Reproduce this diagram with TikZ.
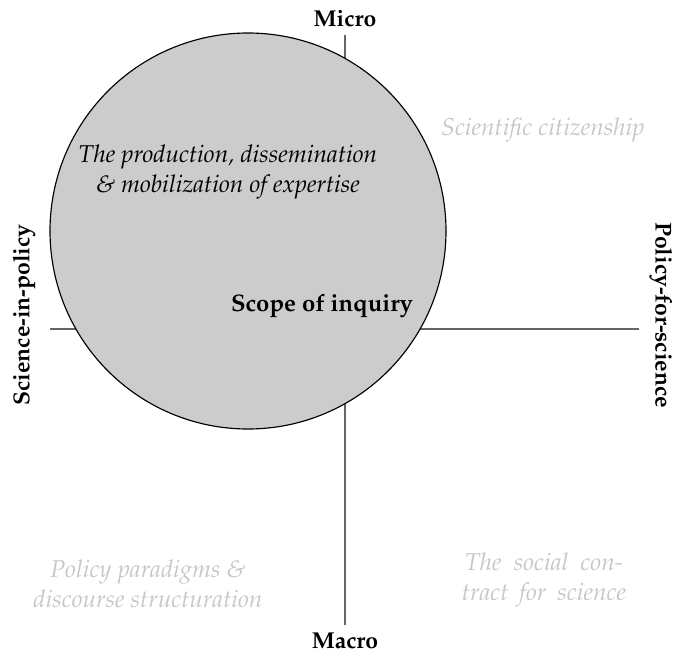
\documentclass[tikz,border=0pt]{standalone}
\usepackage[T1]{fontenc}
\usepackage{mathpazo}
\begin{document}
\begin{tikzpicture}[x=0.435pt,y=-0.435pt,
  axisline/.style={draw=black!60,line width=0.6pt},
  scopecircle/.style={draw=black,fill=black!20,line width=0.5pt},
  axislabel/.style={font=\bfseries,inner sep=0pt},
  faint/.style={font=\fontsize{10.6}{12.8}\selectfont\itshape,text=black!22,align=center,inner sep=0pt},
  inner/.style={font=\fontsize{10.6}{12.8}\selectfont\itshape,align=center,inner sep=0pt}]
\useasboundingbox (0,0) rectangle (676,655);
\coordinate (top) at (345,35);
\coordinate (bot) at (345,625);
\coordinate (left) at (50,329);
\coordinate (right) at (639,329);
\draw[axisline] (top) -- (bot);
\draw[axisline] (left) -- (right);
\node[scopecircle,circle,minimum size=396*0.435pt,inner sep=0pt] (scope) at (248,231) {};
\node[axislabel] (micro) at (345,19) {Micro};
\node[axislabel] (macro) at (345,641) {Macro};
\node[axislabel,rotate=90] (sip) at (24,315) {Science-in-policy};
\node[axislabel,rotate=-90] (pfs) at (661,315) {Policy-for-science};
\node[inner] (prod) at (228,172) {The production, dissemination\\\& mobilization of expertise};
\node[axislabel,font=\fontsize{10.4}{12.5}\selectfont\bfseries] (inq) at (322,306) {Scope of inquiry};
\node[faint] (cit) at (543,130) {Scientific citizenship};
\node[faint] (par) at (148,584) {Policy paradigms \&\\discourse structuration};
\node[faint] (soc) at (544,580) {The\hspace{0.5em}social\hspace{0.5em}con-\\tract\hspace{0.45em}for\hspace{0.45em}science};
\end{tikzpicture}
\end{document}
